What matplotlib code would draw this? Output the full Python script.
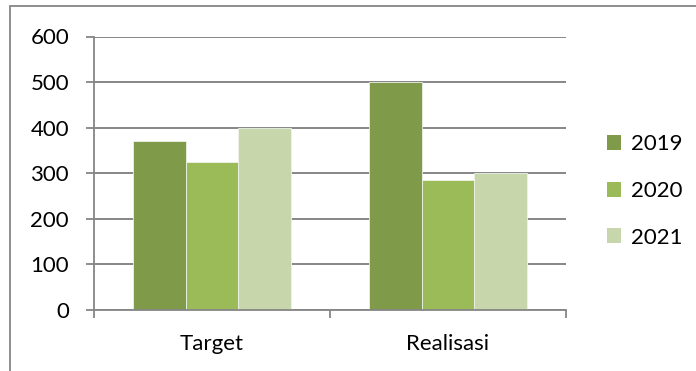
import numpy as np
import matplotlib.pyplot as plt
from matplotlib.patches import Rectangle, Patch

plt.rcParams['font.family'] = ['Lato', 'DejaVu Sans']

# Данные
categories = ["Target", "Realisasi"]
years = ["2019", "2020", "2021"]
values_2019 = [370, 500]
values_2020 = [325, 285]
values_2021 = [400, 300]
colors = ["#7F9A48", "#9BBB59", "#C7D7AB"]

series = [values_2019, values_2020, values_2021]
grid_color = "#868686"

fig = plt.figure(figsize=(6.96, 3.71), dpi=100)
ax = fig.add_axes([94 / 696, 1 - 310 / 371, (566 - 94) / 696, (310 - 36.5) / 371])

# Рамка вокруг диаграммы
fig.patches.append(Rectangle((10 / 696, -0.1), 1.2, 1.1 - 6.5 / 371,
                             transform=fig.transFigure, fill=False,
                             edgecolor=grid_color, linewidth=1.3, clip_on=False))

x = np.arange(len(categories))
width = 0.222
for i, (vals, year) in enumerate(zip(series, years)):
    ax.bar(x + (i - 1) * width, vals, width, color=colors[i],
           edgecolor="#EEF3E6", linewidth=0.6, zorder=3, label=year)

ax.set_xlim(-0.5, 1.5)
ax.set_ylim(0, 600)
ax.set_yticks(np.arange(0, 601, 100))
ax.yaxis.grid(True, color=grid_color, linewidth=1.4, zorder=0)

# Деления на границах категорий, подписи по центру
ax.set_xticks([-0.5, 0.5, 1.5])
ax.set_xticklabels([])
ax.set_xticks(x, minor=True)
ax.set_xticklabels(categories, minor=True)
ax.tick_params(axis="x", which="major", length=6, width=1.3, color=grid_color)
ax.tick_params(axis="x", which="minor", length=0, pad=17, labelsize=16)
ax.tick_params(axis="y", length=6, width=1.3, color=grid_color, pad=12, labelsize=16)

for s in ["top", "right"]:
    ax.spines[s].set_visible(False)
for s in ["left", "bottom"]:
    ax.spines[s].set_color(grid_color)
    ax.spines[s].set_linewidth(1.3)
    ax.spines[s].set_zorder(4)

handles = [Patch(facecolor=c, edgecolor="none") for c in colors]
fig.legend(handles, years, loc="center left", bbox_to_anchor=(587 / 696, 1 - 191 / 371),
           frameon=False, fontsize=16, handlelength=0.65, handleheight=0.65,
           handletextpad=0.45, labelspacing=1.2)

fig.savefig("out.png", dpi=100)
